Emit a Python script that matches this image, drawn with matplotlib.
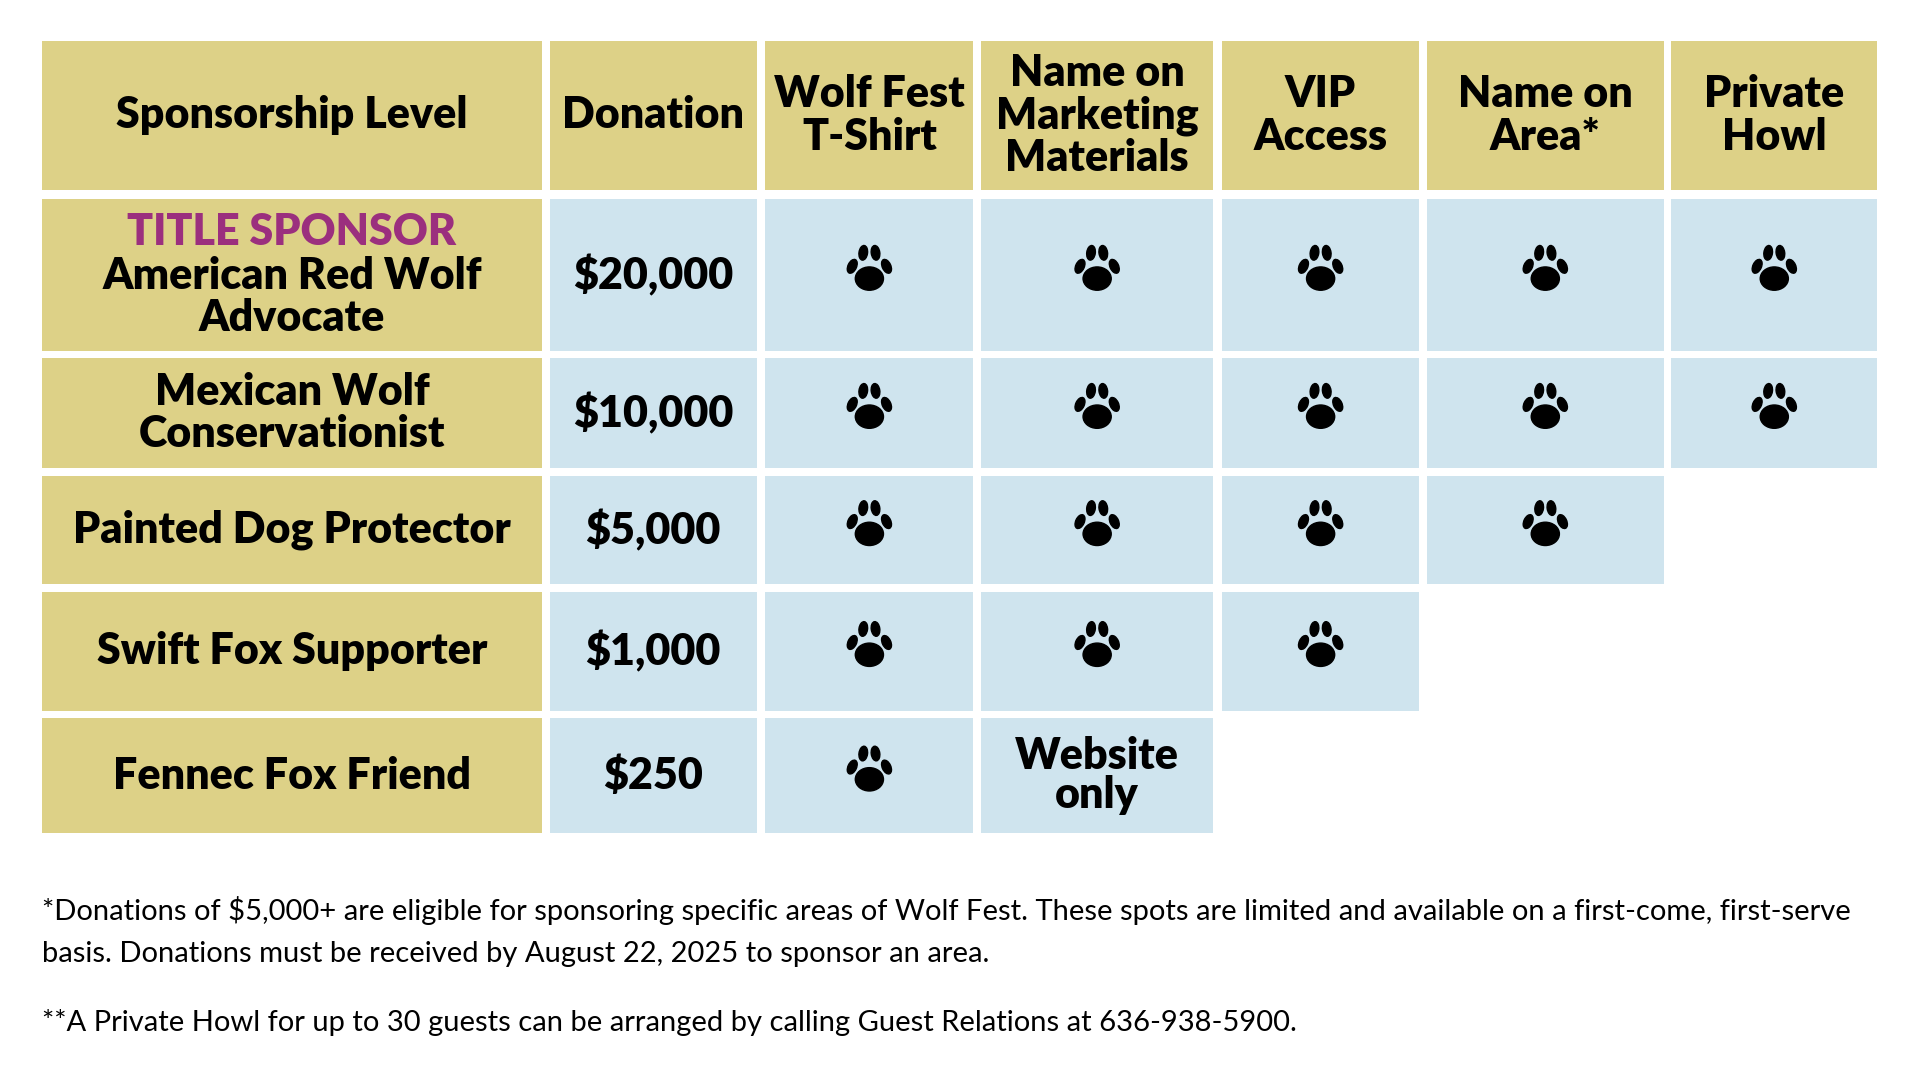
import matplotlib
matplotlib.use("Agg")
import matplotlib.pyplot as plt
from matplotlib.patches import Rectangle, Ellipse

headers = ["Sponsorship Level", "Donation", "Wolf Fest\nT-Shirt", "Name on\nMarketing\nMaterials",
           "VIP\nAccess", "Name on\nArea*", "Private\nHowl"]
levels = ["American Red Wolf\nAdvocate", "Mexican Wolf\nConservationist", "Painted Dog Protector",
          "Swift Fox Supporter", "Fennec Fox Friend"]
donations = ["$20,000", "$10,000", "$5,000", "$1,000", "$250"]
benefits = [
    ["paw", "paw", "paw", "paw", "paw"],
    ["paw", "paw", "paw", "paw", "paw"],
    ["paw", "paw", "paw", "paw", ""],
    ["paw", "paw", "paw", "", ""],
    ["paw", "Website\nonly", "", "", ""],
]
footnotes = ["*Donations of $5,000+ are eligible for sponsoring specific areas of Wolf Fest. These spots are limited and available on a first-come, first-serve\nbasis. Donations must be received by August 22, 2025 to sponsor an area.",
             "**A Private Howl for up to 30 guests can be arranged by calling Guest Relations at 636-938-5900."]

GOLD = "#DDD187"; BLUE = "#CFE4EE"; PURPLE = "#9B2F7E"
W, H = 1568, 880
fig = plt.figure(figsize=(19.2, 10.8), dpi=100)
ax = fig.add_axes([0, 0, 1, 1])
ax.set_xlim(0, W); ax.set_ylim(H, 0); ax.axis("off")

cols = [(34, 443), (449, 618), (625, 795), (801, 991), (998, 1159), (1165, 1359), (1365, 1533)]
rows = [(33, 155), (162, 286), (292, 381), (388, 476), (482, 579), (585, 679)]
FONT = "Lato"
fs = 31
LS = 1.07

def paw(cx, cy):
    k = "black"
    ax.add_patch(Ellipse((cx, cy + 7), 23, 19, color=k))
    ax.add_patch(Ellipse((cx - 14, cy - 3), 7, 12, angle=25, color=k))
    ax.add_patch(Ellipse((cx - 5, cy - 14), 7, 12, angle=8, color=k))
    ax.add_patch(Ellipse((cx + 5, cy - 14), 7, 12, angle=-8, color=k))
    ax.add_patch(Ellipse((cx + 14, cy - 3), 7, 12, angle=-25, color=k))

def btext(x, y, s, **kw):
    ax.text(x, y, s, ha="center", va="center", fontsize=kw.pop("fs", fs),
            fontweight="heavy", family=FONT, linespacing=kw.pop("ls", LS), **kw)

for (x0, x1), h in zip(cols, headers):
    y0, y1 = rows[0]
    ax.add_patch(Rectangle((x0, y0), x1 - x0, y1 - y0, color=GOLD, lw=0))
    btext((x0 + x1) / 2, (y0 + y1) / 2, h)

for i, (y0, y1) in enumerate(rows[1:]):
    cy = (y0 + y1) / 2
    x0, x1 = cols[0]
    ax.add_patch(Rectangle((x0, y0), x1 - x0, y1 - y0, color=GOLD, lw=0))
    if i == 0:
        btext((x0 + x1) / 2, 189, "TITLE SPONSOR", color=PURPLE)
        btext((x0 + x1) / 2, 242, levels[i])
    else:
        btext((x0 + x1) / 2, cy, levels[i])
    x0, x1 = cols[1]
    ax.add_patch(Rectangle((x0, y0), x1 - x0, y1 - y0, color=BLUE, lw=0))
    btext((x0 + x1) / 2, cy, donations[i])
    for j, b in enumerate(benefits[i]):
        if not b:
            continue
        x0, x1 = cols[j + 2]
        ax.add_patch(Rectangle((x0, y0), x1 - x0, y1 - y0, color=BLUE, lw=0))
        if b == "paw":
            paw((x0 + x1) / 2, cy - 4)
        else:
            btext((x0 + x1) / 2, cy, b, ls=0.95)

ax.text(34, 759, footnotes[0], ha="left", va="center", fontsize=21, family=FONT, linespacing=1.8)
ax.text(34, 833, footnotes[1], ha="left", va="center", fontsize=21, family=FONT)

fig.savefig("out.png", dpi=100, facecolor="white")
